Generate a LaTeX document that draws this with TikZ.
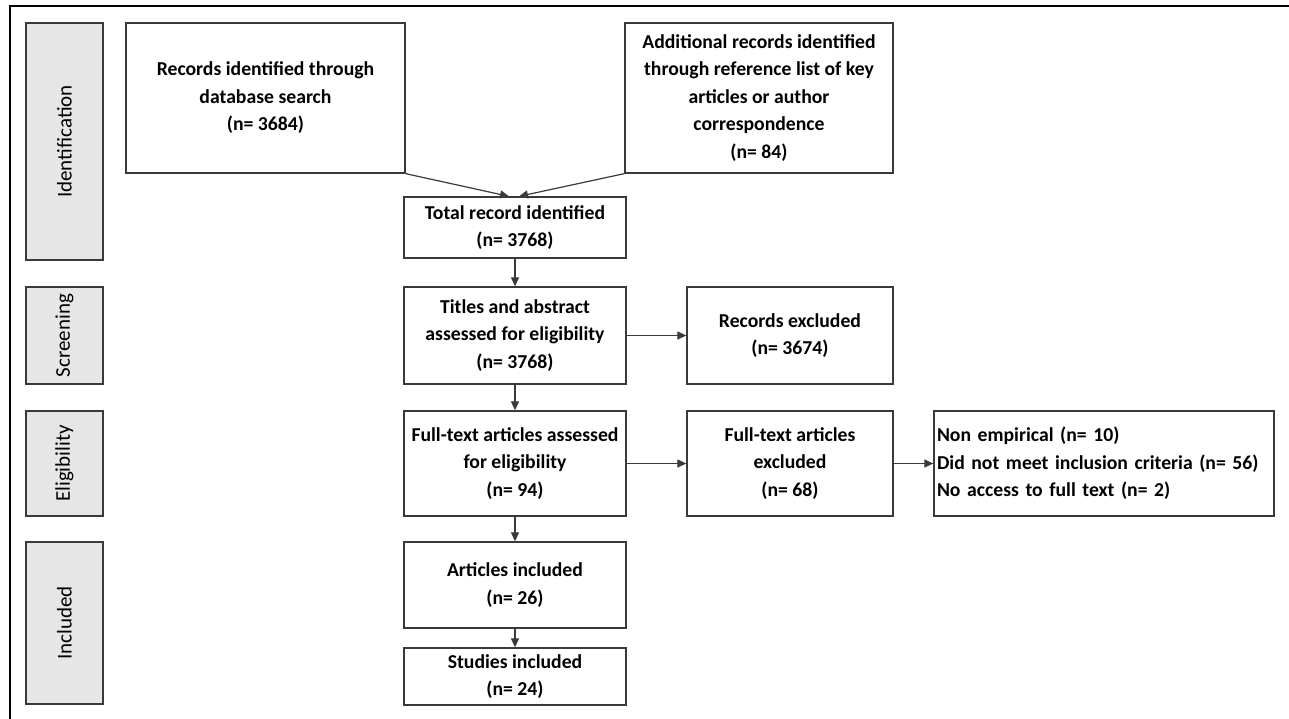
\documentclass[tikz,border=0pt]{standalone}
\usepackage{fontspec}
\setmainfont{Carlito}
\usepackage{tikz}
\usetikzlibrary{calc,arrows.meta}
\definecolor{phasegray}{HTML}{E6E6E6}
\definecolor{edgegray}{HTML}{3A3A3A}
\tikzstyle{process} = [rectangle, draw=edgegray, line width=1.3pt, text centered, align=center, inner sep=3pt, font=\fontsize{19.7}{27.5}\selectfont\bfseries]
\tikzstyle{phase} = [rectangle, draw=edgegray, line width=1.3pt, fill=phasegray, rotate=90, minimum height=77pt, font=\fontsize{21}{25}\selectfont]
\tikzstyle{connector} = [line width=1.2pt, draw=edgegray, -{Triangle[length=9pt,width=8pt]}]

\begin{document}
\begin{tikzpicture}[x=1pt, y=-1pt, node distance=100pt]
            \useasboundingbox (0,0) rectangle (1289,719);
            \draw [line width=2.6pt] (10,719) -- (10,6) -- (1289,6);
            % phases on the left
            \node (idlab) [phase, minimum width=237pt] at (64.5,141.5) {Identification};
            \node (scrlab) [phase, minimum width=97pt] at (64.5,335.5) {Screening};
            \node (eliglab) [phase, minimum width=105pt] at (64.5,463.5) {Eligibility};
            \node (inclab) [phase, minimum width=162pt] at (64.5,623) {Included};
            % flow
            \node (db) [process, minimum width=279pt, minimum height=150pt] at (265.5,98) {Records identified through\\database search\\(n= 3684)};
            \node (extra) [process, minimum width=268pt, minimum height=150pt] at (759,98) {Additional records identified\\through reference list of key\\articles or author\\correspondence\\(n= 84)};
            \node (total) [process, minimum width=222pt, minimum height=61pt] at (515,227.5) {Total record identified\\(n= 3768)};
            \node (titles) [process, minimum width=222pt, minimum height=97pt, below of = total, yshift = -8pt] {Titles and abstract\\assessed for eligibility\\(n= 3768)};
            \node (excl) [process, minimum width=206pt, minimum height=97pt, right of = titles, xshift = 175pt] {Records excluded\\(n= 3674)};
            \node (fulltext) [process, minimum width=222pt, minimum height=105pt, below of = titles, yshift = -28pt] {Full-text articles assessed\\for eligibility\\(n= 94)};
            \node (ftexcl) [process, minimum width=206pt, minimum height=105pt, right of = fulltext, xshift = 175pt] {Full-text articles\\excluded\\(n= 68)};
            \node (reasons) [process, align=left, text width=334pt, minimum height=105pt, right of = ftexcl, xshift = 214pt] {Non empirical (n= 10)\\Did not meet inclusion criteria (n= 56)\\No access to full text (n= 2)};
            \node (articles) [process, minimum width=222pt, minimum height=86pt, below of = fulltext, yshift = -21.5pt] {Articles included\\(n= 26)};
            \node (studies) [process, minimum width=222pt, minimum height=57pt, below of = articles, yshift = 8.5pt] {Studies included\\(n= 24)};
            \draw [connector] (db.south east) -- ([xshift=-6pt]total.north);
            \draw [connector] (extra.south west) -- ([xshift=4pt]total.north);
            \draw [connector] (total) -- (titles);
            \draw [connector] (titles) -- (excl);
            \draw [connector] (titles) -- (fulltext);
            \draw [connector] (fulltext) -- (ftexcl);
            \draw [connector] (ftexcl) -- (reasons);
            \draw [connector] (fulltext) -- (articles);
            \draw [connector] (articles) -- (studies);
        \end{tikzpicture}
\end{document}
